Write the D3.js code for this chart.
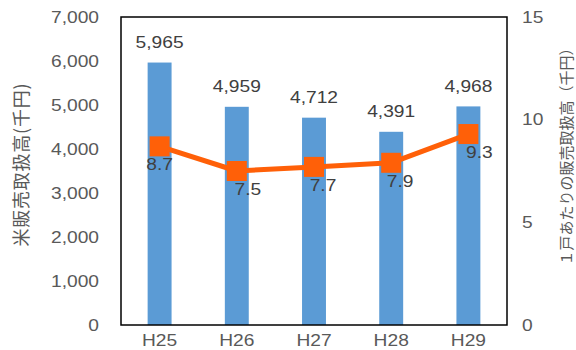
<!DOCTYPE html>
<html>
<head>
<meta charset="utf-8">
<script src="https://cdn.jsdelivr.net/npm/d3@7"></script>
<style>
  html, body { margin: 0; padding: 0; background: #fff; }
  svg { display: block; }
</style>
</head>
<body>
<svg id="chart" width="576" height="350"></svg>
<script>
// Fiscal years (Heisei era)
const years = ["H25", "H26", "H27", "H28", "H29"];
// Total rice sales handled (thousand yen)
const salesTotal = [5965, 4959, 4712, 4391, 4968];
// Sales handled per household (thousand yen)
const salesPerHousehold = [8.7, 7.5, 7.7, 7.9, 9.3];
// Axis ticks
const leftTicks = [0, 1000, 2000, 3000, 4000, 5000, 6000, 7000];
const rightTicks = [0, 5, 10, 15];

const svg = d3.select("#chart");
const plot = { left: 121, right: 507, top: 17, bottom: 325 };
const numFont = "'Liberation Sans', Arial, sans-serif";
const jpFont = "'Noto Sans CJK JP', sans-serif";
const grey = "#595959";
const dark = "#404040";
const barColor = "#5B9BD5";
const lineColor = "#FF6008";
const WIDE = 1.2; // horizontal stretch for the numeric labels

// Stretch text horizontally around its anchor point
function widen(sel) {
  sel.each(function () {
    const t = d3.select(this);
    const tx = +t.attr("x") || 0;
    const ty = +t.attr("y") || 0;
    t.attr("x", 0).attr("y", 0)
     .attr("transform", `translate(${tx},${ty}) scale(${WIDE},1)`);
  });
}

const x = d3.scaleBand().domain(years).range([plot.left, plot.right])
  .paddingInner(0.69).paddingOuter(0.345);
const yL = d3.scaleLinear().domain([0, 7000]).range([plot.bottom, plot.top]);
const yR = d3.scaleLinear().domain([0, 15]).range([plot.bottom, plot.top]);
const fmt = d3.format(",");
const cx = d => x(d) + x.bandwidth() / 2;

// Bars
svg.append("g").selectAll("rect").data(years).join("rect")
  .attr("x", d => x(d))
  .attr("width", x.bandwidth())
  .attr("y", (d, i) => yL(salesTotal[i]))
  .attr("height", (d, i) => plot.bottom - yL(salesTotal[i]))
  .attr("fill", barColor);

// Bar value labels
svg.append("g").selectAll("text").data(years).join("text")
  .attr("x", d => cx(d))
  .attr("y", (d, i) => yL(salesTotal[i]) - 14.5)
  .attr("text-anchor", "middle")
  .attr("font-family", numFont)
  .attr("font-size", 16)
  .attr("fill", dark)
  .text((d, i) => fmt(salesTotal[i]))
  .call(widen);

// Plot frame
svg.append("rect")
  .attr("x", plot.left).attr("y", plot.top)
  .attr("width", plot.right - plot.left).attr("height", plot.bottom - plot.top)
  .attr("fill", "none").attr("stroke", "#000").attr("stroke-width", 1.5);

// Left axis
const axL = svg.append("g").attr("transform", `translate(${plot.left},0)`)
  .call(d3.axisLeft(yL).tickValues(leftTicks).tickFormat(fmt).tickSize(0).tickPadding(22));
axL.select(".domain").remove();
axL.selectAll("text").attr("font-family", numFont).attr("font-size", 16).attr("fill", grey).call(widen);

// Right axis
const axR = svg.append("g").attr("transform", `translate(${plot.right},0)`)
  .call(d3.axisRight(yR).tickValues(rightTicks).tickSize(0).tickPadding(15));
axR.select(".domain").remove();
axR.selectAll("text").attr("font-family", numFont).attr("font-size", 16).attr("fill", grey).call(widen);

// Category axis
const axB = svg.append("g").attr("transform", `translate(0,${plot.bottom})`)
  .call(d3.axisBottom(x).tickSize(0).tickPadding(10));
axB.select(".domain").remove();
axB.selectAll("text").attr("font-family", numFont).attr("font-size", 16).attr("fill", grey).call(widen);

// Per-household line
const line = d3.line().x(d => cx(d)).y((d, i) => yR(salesPerHousehold[i]));
svg.append("path").datum(years)
  .attr("d", line)
  .attr("fill", "none")
  .attr("stroke", lineColor)
  .attr("stroke-width", 5)
  .attr("stroke-linejoin", "round");

svg.append("g").selectAll("rect").data(years).join("rect")
  .attr("x", d => cx(d) - 10)
  .attr("y", (d, i) => yR(salesPerHousehold[i]) - 10)
  .attr("width", 20).attr("height", 20)
  .attr("fill", lineColor);

// Line value labels, sitting just under each marker
const nudge = [0, 11, 9, 9, 11];
svg.append("g").selectAll("text").data(years).join("text")
  .attr("x", (d, i) => cx(d) + nudge[i])
  .attr("y", (d, i) => yR(salesPerHousehold[i]) + 24)
  .attr("text-anchor", "middle")
  .attr("font-family", numFont)
  .attr("font-size", 16)
  .attr("fill", dark)
  .text((d, i) => salesPerHousehold[i].toFixed(1))
  .call(widen);

// Axis titles
svg.append("text")
  .attr("transform", "translate(28,165) rotate(-90)")
  .attr("text-anchor", "middle")
  .attr("font-family", jpFont)
  .attr("font-size", 18)
  .attr("fill", grey)
  .attr("textLength", 163)
  .attr("lengthAdjust", "spacing")
  .text("米販売取扱高(千円)");

svg.append("text")
  .attr("transform", "translate(572,153) rotate(-90)")
  .attr("text-anchor", "middle")
  .attr("font-family", jpFont)
  .attr("font-size", 15)
  .attr("fill", grey)
  .text("１戸あたりの販売取扱高（千円）");
</script>
</body>
</html>
